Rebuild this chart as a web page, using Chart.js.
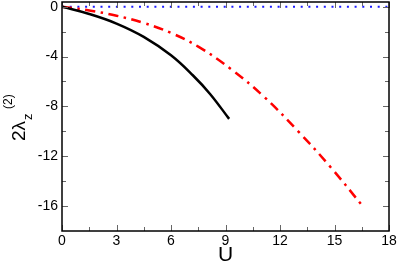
<!DOCTYPE html>
<html>
<head>
<meta charset="utf-8">
<script src="https://cdn.jsdelivr.net/npm/chart.js@4"></script>
<style>
   html, body { margin: 0; padding: 0; background: #fff; }
   #wrap { width: 399px; height: 266px; }
</style>
</head>
<body>
<div id="wrap"><canvas id="chart"></canvas></div>
<script>
// Данные
const blackU = [0, 1.5, 3, 4.5, 6, 7.2, 8.15, 9.2];
const blackVal = [0, -0.58, -1.35, -2.42, -3.9, -5.5, -7.0, -9.0];
const redU = [0, 1.5, 3, 4.5, 6, 7.5, 9.3, 11.1, 13, 14.8, 16.55];
const redVal = [0, -0.3, -0.72, -1.3, -2.1, -3.2, -5.0, -7.2, -10.0, -12.9, -16.0];
const blueU = [0, 18];
const blueVal = [0, 0];

// Деления осей
const xMajor = [0, 3, 6, 9, 12, 15, 18];
const xMinor = [1.5, 4.5, 7.5, 10.5, 13.5, 16.5];
const yMajor = [0, -4, -8, -12, -16];
const yMinor = [-2, -6, -10, -14];

const FONT = "'Liberation Sans', Arial, sans-serif";

const toPoints = (us, vals) => us.map((u, i) => ({ x: u, y: vals[i] }));

// Рамка и внутренние засечки
const framePlugin = {
   id: "frame",
   afterDraw(chart) {
      const { ctx, chartArea: a, scales } = chart;
      const x = scales.x, y = scales.y;
      ctx.save();
      ctx.strokeStyle = "#666";
      ctx.lineWidth = 1;
      const tick = (len, vals, horiz) => {
         vals.forEach(v => {
            ctx.beginPath();
            if (horiz) {
               const px = Math.round(x.getPixelForValue(v)) + 0.5;
               ctx.moveTo(px, a.bottom);
               ctx.lineTo(px, a.bottom - len);
               ctx.moveTo(px, a.top);
               ctx.lineTo(px, a.top + len);
            } else {
               const py = Math.round(y.getPixelForValue(v)) + 0.5;
               ctx.moveTo(a.left, py);
               ctx.lineTo(a.left + len, py);
               ctx.moveTo(a.right, py);
               ctx.lineTo(a.right - len, py);
            }
            ctx.stroke();
         });
      };
      tick(6, xMajor, true);
      tick(4, xMinor, true);
      tick(6, yMajor, false);
      tick(4, yMinor, false);
      ctx.strokeStyle = "#000";
      ctx.lineWidth = 1.5;
      ctx.strokeRect(a.left, a.top, a.right - a.left, a.bottom - a.top);

      // Подпись оси Y: 2λ с индексом z и верхним индексом (2)
      ctx.fillStyle = "#000";
      ctx.textBaseline = "alphabetic";
      ctx.translate(25, 141);
      ctx.rotate(-Math.PI / 2);
      ctx.font = "19px " + FONT;
      ctx.fillText("2λ", 0, 0);
      const w = ctx.measureText("2λ").width;
      ctx.font = "13px " + FONT;
      ctx.fillText("z", w + 1, 7);
      ctx.font = "12px " + FONT;
      ctx.fillText("(2)", w + 12, -13);
      ctx.restore();
   }
};

new Chart(document.getElementById("chart"), {
   type: "line",
   data: {
      datasets: [
         {
            data: toPoints(blackU, blackVal),
            borderColor: "#000",
            borderWidth: 2.5,
            pointRadius: 0,
            tension: 0.4,
         },
         {
            data: toPoints(redU, redVal),
            borderColor: "#ff0000",
            borderWidth: 2.5,
            borderDash: [10, 5.5, 2.5, 5.5],
            pointRadius: 0,
            tension: 0.4,
         },
         {
            data: toPoints(blueU, blueVal),
            borderColor: "#1a1aff",
            borderWidth: 2,
            borderDash: [2, 5.7],
            pointRadius: 0,
         },
      ],
   },
   options: {
      responsive: true,
      maintainAspectRatio: false,
      animation: false,
      layout: { padding: { top: 2, right: 10, left: 0, bottom: 0 } },
      plugins: {
         legend: { display: false },
         tooltip: { enabled: false },
      },
      scales: {
         x: {
            type: "linear",
            min: 0,
            max: 18,
            grid: { display: false, drawTicks: false },
            border: { display: false },
            afterBuildTicks: s => { s.ticks = xMajor.map(v => ({ value: v })); },
            afterFit: s => { s.height = 35; s.paddingLeft = 0; s.paddingRight = 0; },
            ticks: {
               color: "#000",
               padding: 2,
               maxRotation: 0,
               autoSkip: false,
               font: { size: 14, family: FONT },
            },
            title: {
               display: true,
               text: "U",
               color: "#000",
               padding: 0,
               font: { size: 21, family: FONT, lineHeight: 1 },
            },
         },
         y: {
            min: -18,
            max: 0.38,
            grid: { display: false, drawTicks: false },
            border: { display: false },
            afterBuildTicks: s => { s.ticks = yMajor.map(v => ({ value: v })); },
            afterFit: s => { s.width = 62; s.paddingTop = 0; s.paddingBottom = 0; },
            ticks: {
               color: "#000",
               padding: 4,
               autoSkip: false,
               font: { size: 14, family: FONT },
            },
         },
      },
   },
   plugins: [framePlugin],
});
</script>
</body>
</html>
